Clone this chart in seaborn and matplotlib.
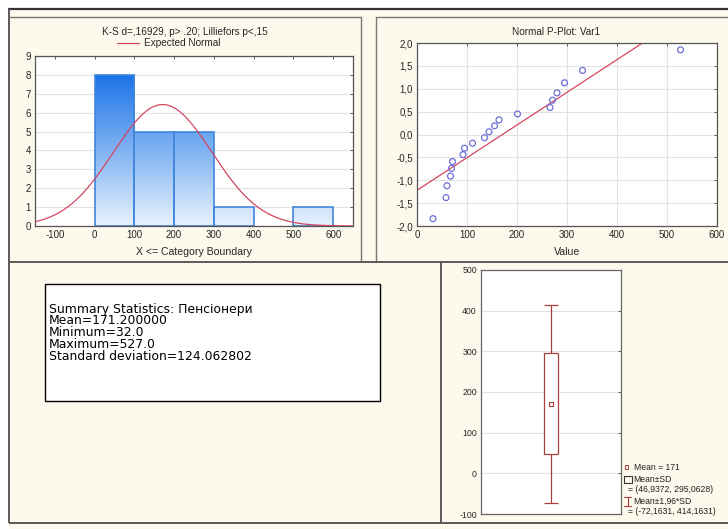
import numpy as np
import matplotlib.pyplot as plt
import matplotlib.patches as mpatches
from matplotlib.colors import LinearSegmentedColormap
from matplotlib.ticker import FuncFormatter
import seaborn as sns

values = [32, 58, 60, 67, 69, 71, 92, 95, 111, 135, 144, 155, 164, 201,
          266, 271, 280, 295, 331, 527]
expected_z = [-1.84, -1.38, -1.12, -0.91, -0.74, -0.59, -0.44, -0.30, -0.19, -0.07,
              0.06, 0.19, 0.32, 0.45, 0.59, 0.75, 0.91, 1.13, 1.40, 1.85]
bin_edges = [0, 100, 200, 300, 400, 500, 600]

# summary statistics
mean_val = 171.2
sd_val = 124.062802
min_val = 32.0
max_val = 527.0
sd_range = [46.9372, 295.0628]
ci_range = [-72.1631, 414.1631]

# fitted line of the P-P plot
pp_line_x = [0, 451]
pp_line_y = [-1.22, 2.0]

hist_title = "K-S d=,16929, p> .20; Lilliefors p<,15"
pp_title = "Normal P-Plot: Var1"
group_name = "Пенсіонери"

W, H = 728, 529
CREAM = '#FDF9ED'
RED = '#D4475E'
BOXRED = '#A8403C'
BLUE_PT = '#6B6FD6'

sns.set_style('white')
plt.rcParams['font.family'] = ['Liberation Sans', 'DejaVu Sans']
plt.rcParams['axes.unicode_minus'] = False

fig = plt.figure(figsize=(W / 100, H / 100), dpi=100, facecolor='white')


def px_axes(l, t, r, b, **kw):
    return fig.add_axes([l / W, 1 - b / H, (r - l) / W, (b - t) / H], **kw)


def comma(v, p=None, nd=1):
    return f'{v:.{nd}f}'.replace('.', ',')


# ---- background frame -------------------------------------------------
bg = px_axes(0, 0, W, H)
bg.set_xlim(0, W)
bg.set_ylim(H, 0)
bg.axis('off')
bg.add_patch(mpatches.Rectangle((9, 9), W - 9, H - 9, facecolor=CREAM, edgecolor='none'))
lk = dict(color='#5a5a5a', lw=1.4, solid_capstyle='butt')
bg.plot([9, W], [9, 9], color='#333333', lw=1.6)
bg.plot([9, 9], [9, 523], **lk)
bg.plot([9, 361], [17, 17], color='#777777', lw=1.0)
bg.plot([376, W], [17, 17], color='#777777', lw=1.0)
bg.plot([361, 361], [17, 262], color='#777777', lw=1.0)
bg.plot([376, 376], [17, 262], color='#777777', lw=1.0)
bg.plot([9, W], [262, 262], **lk)
bg.plot([441, 441], [262, 523], **lk)
bg.plot([9, W], [523, 523], **lk)

# summary statistics box
bg.add_patch(mpatches.Rectangle((45, 284), 335, 117, facecolor='white',
                                edgecolor='black', lw=1.0))
summary = [f"Summary Statistics: {group_name}",
           f"Mean={mean_val:.6f}",
           f"Minimum={min_val:.1f}",
           f"Maximum={max_val:.1f}",
           f"Standard deviation={sd_val:.6f}"]
for i, line in enumerate(summary):
    bg.text(49, 309 + i * 11.8, line, fontsize=8.9, va='center', ha='left',
            color='black', family='DejaVu Sans')

# ---- histogram -----------------------------------------------------------
ax1 = px_axes(35, 56, 353, 226)
ax1.set_facecolor('white')
sns.histplot(x=values, bins=bin_edges, ax=ax1, color='#5AA6F2',
             edgecolor='#3F86DC', linewidth=1.2, alpha=1)
cmap = LinearSegmentedColormap.from_list('bluegrad', ['#E8F2FD', '#1A73E8'])
grad = np.linspace(0, 1, 256).reshape(-1, 1)
for p in list(ax1.patches):
    h = p.get_height()
    if h <= 0:
        p.set_visible(False)
        continue
    x0 = p.get_x()
    im = ax1.imshow(grad, extent=[x0, x0 + p.get_width(), 0, 8], origin='lower',
                    cmap=cmap, aspect='auto', zorder=1.5, interpolation='bilinear')
    im.set_clip_path(p)
    p.set_facecolor('none')
    p.set_zorder(2)

xs = np.linspace(-150, 650, 400)
ys = len(values) * 100 * np.exp(-0.5 * ((xs - mean_val) / sd_val) ** 2) / (sd_val * np.sqrt(2 * np.pi))
sns.lineplot(x=xs, y=ys, ax=ax1, color=RED, lw=0.9, label='Expected Normal', zorder=3)
ax1.set_xlim(-150, 650)
ax1.set_ylim(0, 9)
ax1.set_xticks(range(-100, 601, 100))
ax1.set_yticks(range(0, 10))
ax1.yaxis.grid(True, color='#E2E2E2', lw=0.8)
ax1.set_axisbelow(True)
ax1.set_ylabel('')
ax1.set_xlabel('X <= Category Boundary', fontsize=7.6, labelpad=5)
ax1.tick_params(direction='in', top=True, right=True, length=2.5, width=0.6,
                labelsize=7, color='#444444', pad=3)
for s in ax1.spines.values():
    s.set_color('#555555')
    s.set_linewidth(0.9)
ax1.legend(loc='center', bbox_to_anchor=(169 / W, 1 - 43 / H), bbox_transform=fig.transFigure,
           frameon=False, fontsize=7.2, handlelength=2.2, borderpad=0, handletextpad=0.5)
fig.text(185 / W, 1 - 32 / H, hist_title, fontsize=7.2, ha='center', va='center')

# ---- normal P-P plot -----------------------------------------------------
ax2 = px_axes(417, 43, 717, 226)
ax2.set_facecolor('white')
sns.lineplot(x=pp_line_x, y=pp_line_y, ax=ax2, color=RED, lw=0.9, zorder=2)
sns.scatterplot(x=values, y=expected_z, ax=ax2, marker='o', s=18,
                facecolor='none', edgecolor=BLUE_PT, linewidth=0.9, zorder=3)
ax2.set_xlim(0, 600)
ax2.set_ylim(-2, 2)
ax2.set_xticks(range(0, 601, 100))
ax2.set_yticks(np.arange(-2, 2.01, 0.5))
ax2.yaxis.set_major_formatter(FuncFormatter(comma))
ax2.grid(True, color='#E2E2E2', lw=0.8)
ax2.set_axisbelow(True)
ax2.set_xlabel('Value', fontsize=7.6, labelpad=5)
ax2.set_ylabel('')
ax2.tick_params(direction='in', top=True, right=True, length=2.5, width=0.6,
                labelsize=7, color='#444444', pad=3)
for s in ax2.spines.values():
    s.set_color('#555555')
    s.set_linewidth(0.9)
fig.text(556 / W, 1 - 32 / H, pp_title, fontsize=7.2, ha='center', va='center')

# ---- mean / SD box plot ---------------------------------------------------
ax3 = px_axes(481, 270, 621, 514)
ax3.set_facecolor('white')
bw = 0.1
ax3.plot([0, 0], ci_range, color=BOXRED, lw=0.9, zorder=2)
ax3.hlines(ci_range, -bw / 2, bw / 2, color=BOXRED, lw=0.9, zorder=2)
ax3.add_patch(mpatches.Rectangle((-bw / 2, sd_range[0]), bw, sd_range[1] - sd_range[0],
                                 facecolor='white', edgecolor=BOXRED, lw=0.9, zorder=3))
sns.scatterplot(x=[0], y=[mean_val], ax=ax3, marker='s', s=10, facecolor='none',
                edgecolor=BOXRED, linewidth=0.8, zorder=4)
ax3.set_xlim(-0.5, 0.5)
ax3.set_ylim(-100, 500)
ax3.set_xticks([])
ax3.set_yticks(range(-100, 501, 100))
ax3.yaxis.grid(True, color='#E2E2E2', lw=0.8)
ax3.set_axisbelow(True)
ax3.tick_params(axis='y', direction='in', right=True, length=2.5, width=0.6,
                labelsize=6.3, color='#444444', pad=3)
for s in ax3.spines.values():
    s.set_color('#666666')
    s.set_linewidth(0.9)

# legend of the box plot drawn in figure pixels
lt = dict(fontsize=6.2, va='center', ha='left', color='#222222')
bg.add_patch(mpatches.Rectangle((624.5, 465), 3.5, 3.5, facecolor='none', edgecolor=BOXRED, lw=0.7))
bg.text(634, 467, f"Mean = {mean_val:.0f}", **lt)
bg.add_patch(mpatches.Rectangle((623.5, 475.5), 8, 7.5, facecolor='none', edgecolor='#333333', lw=0.8))
bg.text(633.5, 479, "Mean±SD", **lt)
bg.text(628, 490, f"= ({comma(sd_range[0], nd=4)}, {comma(sd_range[1], nd=4)})", **lt)
bg.plot([627.5, 627.5], [497, 506], color=BOXRED, lw=0.8)
bg.plot([624, 631], [497, 497], color=BOXRED, lw=0.8)
bg.plot([624, 631], [506, 506], color=BOXRED, lw=0.8)
bg.text(633.5, 501, "Mean±1,96*SD", **lt)
bg.text(628, 512, f"= ({comma(ci_range[0], nd=4)}, {comma(ci_range[1], nd=4)})", **lt)

fig.savefig('out.png', dpi=100)
